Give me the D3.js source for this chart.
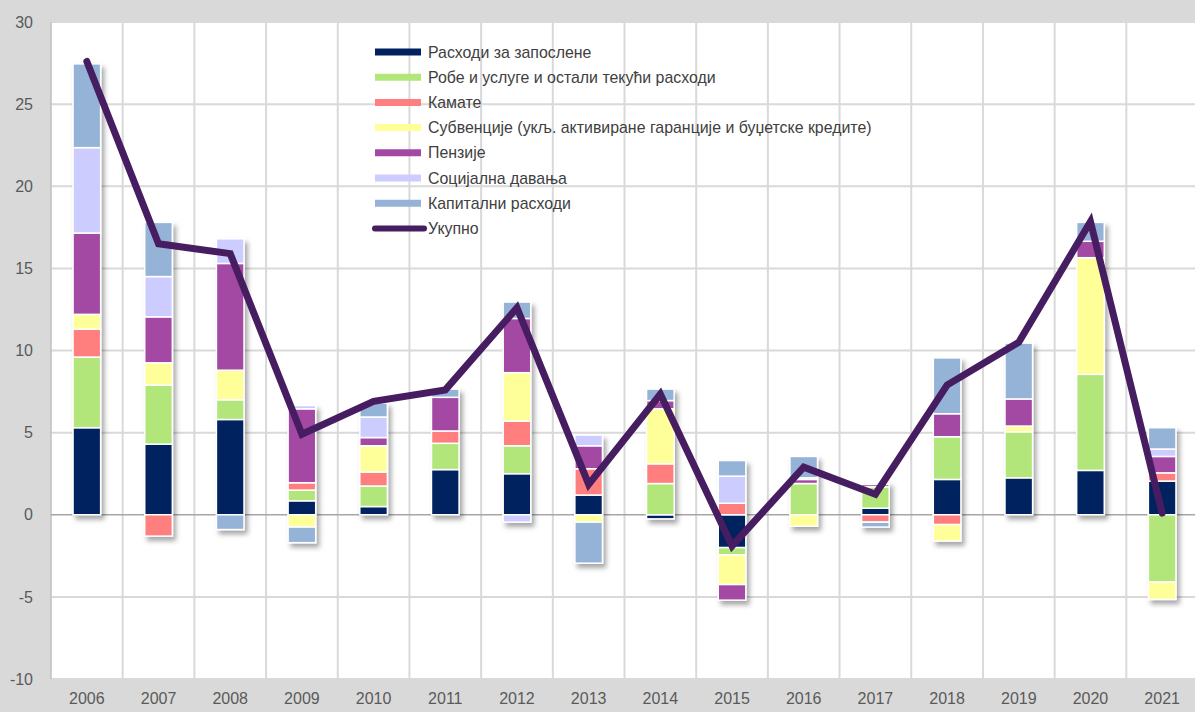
<!DOCTYPE html>
<html>
<head>
<meta charset="utf-8">
<script src="https://cdn.jsdelivr.net/npm/d3@7"></script>
<style>
  html, body { margin: 0; padding: 0; background: #d9d9d9; }
  svg { display: block; font-family: "Liberation Sans", Arial, sans-serif; }
</style>
</head>
<body>
<div id="chart"></div>
<script>
const years = ['2006', '2007', '2008', '2009', '2010', '2011', '2012', '2013',
    '2014', '2015', '2016', '2017', '2018', '2019', '2020', '2021']

const seriesNames = [
    'Расходи за запослене',
    'Робе и услуге и остали текући расходи',
    'Камате',
    'Субвенције (укљ. активиране гаранције и буџетске кредите)',
    'Пензије',
    'Социјална давања',
    'Капитални расходи',
]
const totalName = 'Укупно'

const employees = [5.3, 4.3, 5.8, 0.85, 0.5, 2.75, 2.5, 1.2, -0.25, -2.0, 0, 0.4, 2.15, 2.25, 2.7, 2.05]
const goods = [4.3, 3.6, 1.2, 0.65, 1.25, 1.6, 1.7, 0, 1.9, -0.45, 1.9, 1.3, 2.6, 2.8, 5.85, -4.1]
const interest = [1.7, -1.3, 0, 0.45, 0.85, 0.75, 1.5, 1.6, 1.2, 0.7, 0, -0.45, -0.6, 0, 0, 0.5]
const subsidies = [0.9, 1.35, 1.8, -0.75, 1.6, 0, 2.95, -0.45, 3.35, -1.8, -0.7, 0, -1.0, 0.35, 7.1, -1.05]
const pensions = [4.95, 2.8, 6.5, 4.5, 0.5, 2.05, 3.3, 1.4, 0.5, -0.95, 0.25, 0.15, 1.4, 1.65, 1.0, 1.0]
const social = [5.2, 2.45, 1.5, 0.2, 1.25, 0, -0.45, 0.65, 0, 1.65, 0.1, 0.1, 0, 0, 0, 0.45]
const capital = [5.1, 3.3, -0.9, -0.95, 0.85, 0.5, 1.0, -2.5, 0.7, 0.95, 1.3, -0.3, 3.4, 3.4, 1.15, 1.3]
const total = [27.6, 16.5, 15.9, 4.9, 6.9, 7.6, 12.6, 1.85, 7.35, -1.9, 2.9, 1.25, 7.9, 10.5, 17.85, 0.1]

const yTicks = [-10, -5, 0, 5, 10, 15, 20, 25, 30]

const colors = ['#00205f', '#b3e67a', '#ff7f7f', '#ffff99', '#a349a4', '#ccccff', '#95b3d7']
const lineColor = '#471d61'

const width = 1195
const height = 712
const margin = { top: 22, right: -3, bottom: 33, left: 51 }

const values = [employees, goods, interest, subsidies, pensions, social, capital]
const table = years.map((year, i) => {
    const row = { year }
    seriesNames.forEach((name, s) => { row[name] = values[s][i] })
    return row
})

const stacked = d3.stack()
    .keys(seriesNames)
    .offset(d3.stackOffsetDiverging)(table)

const x = d3.scaleBand()
    .domain(years)
    .range([margin.left, width - margin.right])
    .padding(0)

const y = d3.scaleLinear()
    .domain([-10, 30])
    .range([height - margin.bottom, margin.top])

const svg = d3.select('#chart').append('svg')
    .attr('width', width)
    .attr('height', height)

const defs = svg.append('defs')
const shadow = defs.append('filter')
    .attr('id', 'shadow')
    .attr('x', '-50%').attr('y', '-20%')
    .attr('width', '200%').attr('height', '140%')
shadow.append('feDropShadow')
    .attr('dx', 3).attr('dy', 4)
    .attr('stdDeviation', 2.5)
    .attr('flood-color', '#000')
    .attr('flood-opacity', 0.35)

svg.append('rect')
    .attr('width', width).attr('height', height)
    .attr('fill', '#d9d9d9')

svg.append('rect')
    .attr('x', margin.left).attr('y', margin.top)
    .attr('width', width - margin.right - margin.left)
    .attr('height', height - margin.bottom - margin.top)
    .attr('fill', '#fff')

// grid
const grid = svg.append('g').attr('stroke', '#d9d9d9').attr('stroke-width', 2)
grid.selectAll('.h').data(yTicks.filter(d => d !== 0)).enter().append('line')
    .attr('x1', margin.left).attr('x2', width)
    .attr('y1', d => y(d)).attr('y2', d => y(d))
grid.selectAll('.v').data(years.slice(1)).enter().append('line')
    .attr('x1', d => x(d)).attr('x2', d => x(d))
    .attr('y1', margin.top).attr('y2', height - margin.bottom)

svg.append('line')
    .attr('x1', margin.left).attr('x2', margin.left)
    .attr('y1', margin.top).attr('y2', height - margin.bottom)
    .attr('stroke', '#bfbfbf').attr('stroke-width', 1.5)

// legend (behind bars, transparent)
const legend = svg.append('g').attr('transform', 'translate(375, 52)')
const legendItems = seriesNames.map((name, i) => ({ name, color: colors[i], line: false }))
legendItems.push({ name: totalName, color: lineColor, line: true })
legendItems.forEach((item, i) => {
    const g = legend.append('g').attr('transform', `translate(0, ${i * 25.2})`)
    g.append('line')
        .attr('x1', 0).attr('x2', item.line ? 49 : 46)
        .attr('stroke', item.color)
        .attr('stroke-width', item.line ? 6 : 7)
        .attr('stroke-linecap', item.line ? 'round' : 'butt')
    g.append('text')
        .attr('x', 53).attr('dy', '0.35em')
        .attr('fill', '#404040')
        .style('font-size', '15.9px')
        .text(item.name)
})

// zero line
svg.append('line')
    .attr('x1', margin.left).attr('x2', width)
    .attr('y1', y(0)).attr('y2', y(0))
    .attr('stroke', '#a6a6a6').attr('stroke-width', 1.5)

// bars
const barWidth = x.bandwidth() * 0.385
const bars = svg.append('g').attr('filter', 'url(#shadow)')
stacked.forEach((layer, s) => {
    bars.append('g')
        .attr('fill', colors[s])
        .selectAll('rect')
        .data(layer.filter(d => d[1] - d[0] !== 0))
        .enter().append('rect')
            .attr('x', d => x(d.data.year) + (x.bandwidth() - barWidth) / 2)
            .attr('width', barWidth)
            .attr('y', d => y(d[1]))
            .attr('height', d => y(d[0]) - y(d[1]))
            .attr('stroke', '#fff')
            .attr('stroke-width', 1.5)
})

// total line
const line = d3.line()
    .x((d, i) => x(years[i]) + x.bandwidth() / 2)
    .y(d => y(d))
svg.append('path')
    .datum(total)
    .attr('d', line)
    .attr('fill', 'none')
    .attr('stroke', lineColor)
    .attr('stroke-width', 7)
    .attr('stroke-linejoin', 'miter')
    .attr('stroke-linecap', 'round')

// axes
const yAxis = svg.append('g')
    .attr('transform', `translate(${margin.left}, 0)`)
    .call(d3.axisLeft(y).tickValues(yTicks).tickFormat(d => String(d)).tickSize(0).tickPadding(18))
yAxis.select('.domain').remove()
yAxis.selectAll('text')
    .attr('fill', '#595959')
    .style('font-size', '16px')
    .style('font-family', '"Liberation Sans", Arial, sans-serif')

const xAxis = svg.append('g')
    .attr('transform', `translate(0, ${height - margin.bottom})`)
    .call(d3.axisBottom(x).tickSize(0).tickPadding(14))
xAxis.select('.domain').remove()
xAxis.selectAll('text')
    .attr('fill', '#595959')
    .style('font-size', '16px')
    .style('font-family', '"Liberation Sans", Arial, sans-serif')
</script>
</body>
</html>
